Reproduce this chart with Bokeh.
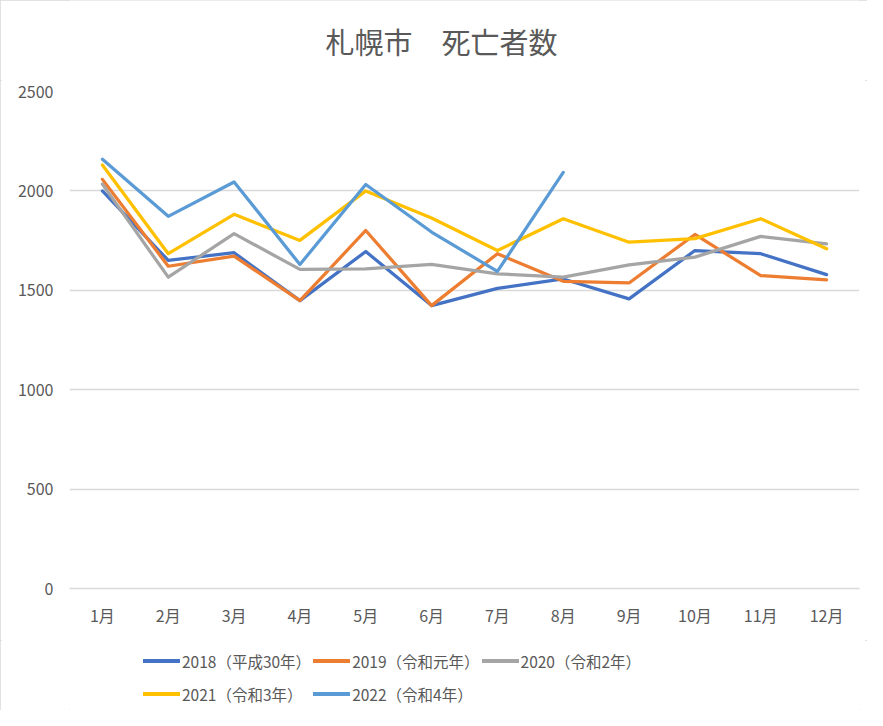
from bokeh.models import FactorRange, Range1d, SingleIntervalTicker, Legend, LegendItem, Label
from bokeh.plotting import figure
from bokeh.layouts import column
from bokeh.embed import file_html
from bokeh.resources import INLINE

# month categories and monthly deaths per year (Sapporo)
months = ["1月", "2月", "3月", "4月", "5月", "6月", "7月", "8月", "9月", "10月", "11月", "12月"]
d2018 = [2000, 1650, 1689, 1448, 1695, 1423, 1510, 1557, 1457, 1700, 1684, 1579]
d2019 = [2058, 1621, 1672, 1448, 1801, 1423, 1684, 1545, 1537, 1781, 1574, 1553]
d2020 = [2034, 1566, 1785, 1605, 1608, 1630, 1583, 1566, 1628, 1667, 1771, 1734]
d2021 = [2130, 1684, 1882, 1751, 2000, 1864, 1700, 1860, 1742, 1760, 1860, 1709]
d2022 = [2159, 1872, 2045, 1630, 2032, 1793, 1595, 2093]

title = "札幌市　死亡者数"
labels = ["2018（平成30年）", "2019（令和元年）", "2020（令和2年）", "2021（令和3年）", "2022（令和4年）"]
series = [d2018, d2019, d2020, d2021, d2022]
colors = ["#4472C4", "#ED7D31", "#A5A5A5", "#FFC000", "#5B9BD5"]

FONT = "Noto Sans CJK JP"
GREY = "#595959"
LINE = dict(line_width=3.25, line_join="round", line_cap="round")


def strip(height):
    # blank figure used to hold the title / legend outside the chart frame
    f = figure(width=867, height=height, x_range=Range1d(0, 1), y_range=Range1d(0, 1),
               output_backend="svg", toolbar_location=None,
               x_axis_location=None, y_axis_location=None, min_border=0)
    f.outline_line_color = None
    f.grid.grid_line_color = None
    return f


# title strip
head = strip(80)
head.add_layout(Label(x=372, y=40, x_units="screen", y_units="screen", text=title,
                      text_align="center", text_baseline="middle", text_font=FONT,
                      text_font_size="29px", text_color=GREY))

# main chart
p = figure(width=867, height=560, x_range=FactorRange(*months), y_range=Range1d(0, 2500),
           output_backend="svg", toolbar_location=None,
           min_border_left=69, min_border_right=8, min_border_top=11, min_border_bottom=52)
p.outline_line_color = None

p.yaxis.ticker = SingleIntervalTicker(interval=500)
p.ygrid.ticker = SingleIntervalTicker(interval=500)
p.xgrid.grid_line_color = None
p.ygrid.grid_line_color = "#D9D9D9"
p.ygrid.grid_line_width = 1.5
for ax in (p.xaxis, p.yaxis):
    ax.axis_line_color = None
    ax.major_tick_line_color = None
    ax.minor_tick_line_color = None
    ax.major_tick_out = 0
    ax.major_tick_in = 0
    ax.major_label_text_font = FONT
    ax.major_label_text_font_size = "16px"
    ax.major_label_text_color = GREY
p.xaxis.axis_line_color = "#D9D9D9"
p.xaxis.axis_line_width = 1.5
p.yaxis.major_label_standoff = 12
p.xaxis.major_label_standoff = 14

for vals, c in zip(series, colors):
    p.line(months[:len(vals)], vals, line_color=c, **LINE)

# legend strip: carrier lines hold only NaN so nothing is drawn in the strip itself
leg = strip(70)
items = []
for lab, c in zip(labels, colors):
    r = leg.line([0, 1], [float("nan"), float("nan")], line_color=c, line_width=4,
                 line_join="round", line_cap="round")
    items.append(LegendItem(label=lab, renderers=[r]))

legend = Legend(items=items, location=(74, 1), orientation="horizontal", ncols=3,
                glyph_width=37, glyph_height=31, label_height=31, label_standoff=2,
                spacing=2, padding=0, margin=0,
                label_text_font=FONT, label_text_font_size="15.5px", label_text_color=GREY,
                border_line_color=None, background_fill_alpha=0)
leg.add_layout(legend, "center")

layout = column(head, p, leg, spacing=0)
layout.styles = {"outline": "2px solid #d9d9d9", "outline-offset": "-2px"}

open("out.html", "w").write(file_html(layout, INLINE))
